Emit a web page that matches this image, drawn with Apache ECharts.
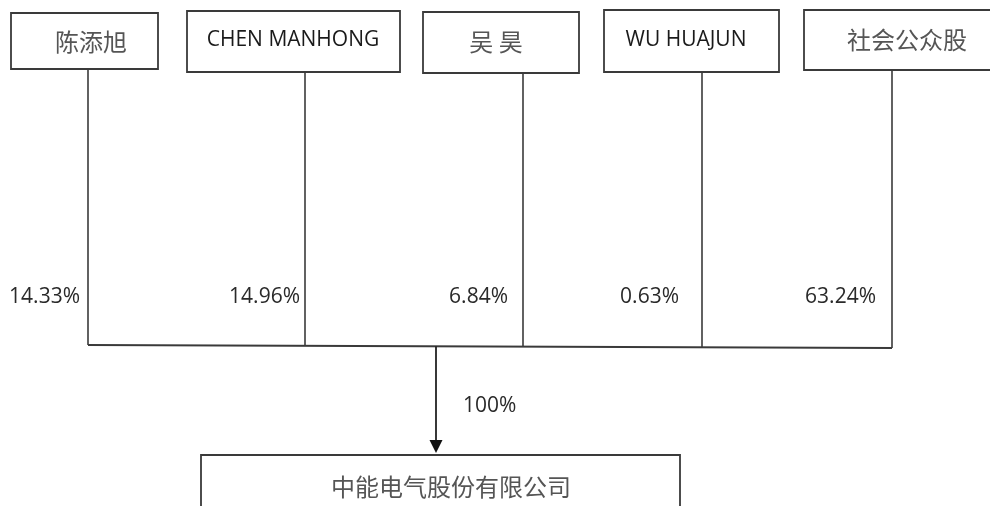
<!DOCTYPE html>
<html><head><meta charset="utf-8">
<script src="https://cdn.jsdelivr.net/npm/echarts@6/dist/echarts.min.js"></script>
<style>html,body{margin:0;padding:0;background:#fff}#c{width:990px;height:506px}</style>
</head><body><div id="c"></div>
<script>
// ---- data ----
const holders = ['陈添旭', 'CHEN MANHONG', '吴 昊', 'WU HUAJUN', '社会公众股'];
const holdings = [14.33, 14.96, 6.84, 0.63, 63.24];
const company = '中能电气股份有限公司';
const companyShare = 100;

// ---- layout (coordinates on a 990 x 506 plane) ----
const boxLeft = [11, 187, 423, 604, 804];
const boxRight = [158, 400, 579, 779, 1000];
const boxTop = [13, 11, 12, 10, 10];
const boxBottom = [69, 72, 73, 72, 70];
const nameX = [91, 293, 496, 686, 907];
const nameY = [42, 40, 42, 40, 40];
const stemX = [88, 305, 523, 702, 892];
const busY = [345, 346, 347, 347, 348];
const pctRight = [80, 300, 508, 679, 876];
const pctY = 297;
const arrowX = 436, arrowTipY = 453, arrowHead = 13;
const compBox = [201, 455, 680, 530];
const compText = [451, 487];
const totalLabel = [463, 406];

const LINE = '#3a3a3a';
const CJK = '"Noto Sans CJK SC", sans-serif';
const LAT = '"Open Sans", sans-serif';
const isCJK = s => /[\u4e00-\u9fff]/.test(s);

const chart = echarts.init(document.getElementById('c'));
chart.setOption({
  animation: false,
  grid: {left: 0, right: 0, top: 0, bottom: 0},
  xAxis: {type: 'value', min: 0, max: 990, show: false},
  yAxis: {type: 'value', min: 0, max: 506, inverse: true, show: false},
  series: [
    {
      type: 'custom',
      coordinateSystem: 'cartesian2d',
      clip: false,
      data: holders.map((n, i) => [i]),
      renderItem: function (params, api) {
        const i = api.value(0);
        const p0 = api.coord([boxLeft[i], boxTop[i]]);
        const p1 = api.coord([boxRight[i], boxBottom[i]]);
        const s0 = api.coord([stemX[i], boxBottom[i]]);
        const s1 = api.coord([stemX[i], busY[i]]);
        const t = api.coord([nameX[i], nameY[i]]);
        const pc = api.coord([pctRight[i], pctY]);
        const name = holders[i];
        const cjk = isCJK(name);
        return {
          type: 'group',
          children: [
            {type: 'rect', shape: {x: p0[0], y: p0[1], width: p1[0] - p0[0], height: p1[1] - p0[1]},
             style: {fill: '#fff', stroke: LINE, lineWidth: 1.8}},
            {type: 'text', style: {text: name, x: t[0], y: t[1], align: 'center', verticalAlign: 'middle',
              fill: cjk ? '#555' : '#1a1a1a', fontSize: cjk ? 24 : 21, fontFamily: cjk ? CJK : LAT}},
            {type: 'line', shape: {x1: s0[0], y1: s0[1], x2: s1[0], y2: s1[1]},
             style: {stroke: LINE, lineWidth: 1.6}},
            {type: 'text', style: {text: holdings[i].toFixed(2) + '%', x: pc[0], y: pc[1], align: 'right',
              verticalAlign: 'middle', fill: '#2a2a2a', fontSize: 21, fontFamily: LAT}}
          ]
        };
      }
    },
    {
      type: 'custom',
      coordinateSystem: 'cartesian2d',
      clip: false,
      data: [[0]],
      renderItem: function (params, api) {
        const b0 = api.coord([stemX[0], busY[0]]);
        const b1 = api.coord([stemX[stemX.length - 1], busY[busY.length - 1]]);
        const busAtArrow = busY[0] + (busY[busY.length - 1] - busY[0]) * (arrowX - stemX[0]) / (stemX[stemX.length - 1] - stemX[0]);
        const a0 = api.coord([arrowX, busAtArrow]);
        const a1 = api.coord([arrowX, arrowTipY - arrowHead + 1]);
        const tip = api.coord([arrowX, arrowTipY]);
        const c0 = api.coord([compBox[0], compBox[1]]);
        const c1 = api.coord([compBox[2], compBox[3]]);
        const ct = api.coord(compText);
        const tl = api.coord(totalLabel);
        return {
          type: 'group',
          children: [
            {type: 'line', shape: {x1: b0[0], y1: b0[1], x2: b1[0], y2: b1[1]},
             style: {stroke: LINE, lineWidth: 1.8}},
            {type: 'line', shape: {x1: a0[0], y1: a0[1], x2: a1[0], y2: a1[1]},
             style: {stroke: '#222', lineWidth: 1.8}},
            {type: 'polygon', shape: {points: [[tip[0] - 6.5, tip[1] - arrowHead], [tip[0] + 6.5, tip[1] - arrowHead], [tip[0], tip[1]]]},
             style: {fill: '#111'}},
            {type: 'rect', shape: {x: c0[0], y: c0[1], width: c1[0] - c0[0], height: c1[1] - c0[1]},
             style: {fill: '#fff', stroke: LINE, lineWidth: 1.8}},
            {type: 'text', style: {text: company, x: ct[0], y: ct[1], align: 'center', verticalAlign: 'middle',
              fill: '#555', fontSize: 24, fontFamily: CJK}},
            {type: 'text', style: {text: companyShare + '%', x: tl[0], y: tl[1], align: 'left', verticalAlign: 'middle',
              fill: '#2a2a2a', fontSize: 21, fontFamily: LAT}}
          ]
        };
      }
    }
  ]
});
</script>
</body></html>
